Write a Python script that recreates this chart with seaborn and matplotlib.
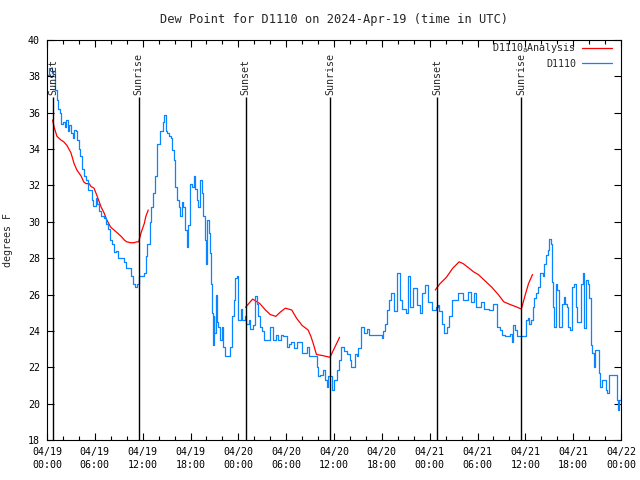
import numpy as np
import pandas as pd
import seaborn as sns
import matplotlib
matplotlib.use('Agg')
import matplotlib.pyplot as plt
import matplotlib.dates as mdates
from matplotlib.lines import Line2D

# data (hours since 2024-04-19 00:00 UTC, deg F)
start = pd.Timestamp('2024-04-19 00:00')

obs_hours = [0.0, 0.3, 0.6, 0.8, 1.0, 1.2, 1.4, 1.6, 1.8, 2.0, 2.2, 2.4, 2.6, 2.8, 3.0, 3.2, 3.4, 3.6, 3.8, 4.0,
             4.2, 4.4, 4.6, 4.9, 5.1, 5.4, 5.6, 5.8, 6.1, 6.3, 6.5, 6.8, 7.2, 7.4, 7.6, 7.9, 8.2, 8.4, 8.7, 8.9,
             9.3, 9.6, 9.9, 10.3, 10.5, 10.8, 11.1, 11.3, 11.5, 11.9, 12.2, 12.4, 12.6, 12.9, 13.1, 13.3, 13.5, 13.8, 14.2, 14.5,
             14.7, 14.9, 15.1, 15.3, 15.5, 15.7, 15.9, 16.1, 16.3, 16.5, 16.7, 16.9, 17.1, 17.3, 17.5, 17.7, 17.9, 18.2, 18.4, 18.6,
             18.8, 19.0, 19.2, 19.4, 19.6, 19.8, 19.9, 20.0, 20.1, 20.3, 20.5, 20.6, 20.7, 20.8, 20.9, 21.0, 21.2, 21.3, 21.5, 21.7,
             21.9, 22.1, 22.3, 22.6, 22.9, 23.0, 23.2, 23.4, 23.6, 23.8, 23.9, 24.0, 24.3, 24.5, 24.8, 25.0, 25.3, 25.5, 25.8, 26.1,
             26.3, 26.5, 26.7, 27.0, 27.2, 27.6, 28.0, 28.4, 28.7, 29.0, 29.3, 29.6, 30.1, 30.3, 30.6, 31.0, 31.3, 31.6, 32.0, 32.3,
             32.6, 32.9, 33.4, 33.9, 34.0, 34.2, 34.4, 34.6, 34.9, 35.1, 35.3, 35.5, 35.8, 36.0, 36.2, 36.4, 36.6, 36.9, 37.3, 37.6,
             38.0, 38.1, 38.4, 38.6, 38.9, 39.0, 39.4, 39.8, 40.2, 40.4, 40.9, 41.5, 41.8, 42.0, 42.2, 42.4, 42.7, 42.9, 43.2, 43.5,
             43.9, 44.3, 44.5, 45.0, 45.3, 45.5, 45.9, 46.4, 46.8, 47.1, 47.4, 47.8, 48.3, 48.8, 49.1, 49.2, 49.6, 49.8, 50.2, 50.4,
             50.8, 51.6, 52.2, 52.8, 53.2, 53.5, 53.8, 54.5, 54.8, 55.5, 56.0, 56.5, 56.8, 57.1, 57.5, 58.0, 58.1, 58.3, 58.5, 58.7,
             59.0, 59.5, 59.8, 60.1, 60.3, 60.5, 60.7, 60.9, 61.1, 61.4, 61.6, 61.8, 62.0, 62.2, 62.4, 62.6, 62.8, 63.0, 63.2, 63.4,
             63.5, 63.6, 63.8, 64.0, 64.2, 64.4, 64.6, 64.8, 65.0, 65.2, 65.4, 65.6, 65.9, 66.1, 66.3, 66.5, 66.8, 67.0, 67.2, 67.4,
             67.6, 67.8, 68.0, 68.2, 68.4, 68.6, 68.8, 69.0, 69.2, 69.4, 69.6, 69.9, 70.1, 70.3, 70.5, 71.0, 71.3, 71.5, 71.6, 71.8,
             72.0]
obs_dewpt = [38.1, 38.45, 38.2, 38.3, 37.25, 36.7, 36.2, 36.0, 35.4, 35.5, 35.2, 35.6, 35.0, 35.3, 34.9, 34.6, 35.05, 35.0, 34.5, 34.0,
             33.6, 32.9, 32.5, 32.3, 31.75, 31.75, 31.2, 30.85, 31.3, 31.0, 30.6, 30.3, 30.2, 29.9, 29.6, 29.0, 28.8, 28.35, 28.4, 28.0,
             28.0, 27.8, 27.45, 27.45, 27.0, 26.6, 26.4, 26.6, 27.0, 27.0, 27.2, 28.1, 28.8, 30.0, 30.8, 31.6, 32.5, 34.3, 35.0, 35.5,
             35.9, 35.0, 34.9, 34.7, 34.6, 33.95, 33.4, 31.9, 31.2, 30.8, 30.3, 31.1, 30.8, 29.55, 28.6, 29.8, 32.1, 31.9, 32.5, 31.8,
             31.2, 30.8, 32.3, 31.6, 30.3, 29.0, 28.0, 27.7, 30.1, 29.4, 28.3, 26.6, 25.0, 23.2, 24.8, 23.9, 26.0, 24.5, 24.2, 23.5,
             24.2, 23.1, 22.6, 22.6, 22.6, 23.1, 24.8, 25.7, 26.9, 27.0, 25.7, 24.6, 25.2, 24.6, 24.8, 24.4, 24.6, 24.1, 24.3, 25.9,
             25.5, 24.8, 24.2, 24.0, 23.5, 23.5, 24.2, 23.5, 23.8, 23.5, 23.8, 23.7, 23.1, 23.3, 23.4, 23.05, 23.4, 23.4, 22.8, 22.8,
             23.1, 22.6, 22.6, 22.0, 21.5, 21.6, 21.6, 21.85, 21.3, 20.9, 21.5, 21.5, 20.75, 21.3, 21.3, 21.85, 22.4, 23.1, 22.9, 22.75,
             22.4, 22.0, 22.0, 22.75, 22.6, 23.05, 24.2, 23.9, 24.1, 23.8, 23.8, 23.8, 23.8, 23.6, 24.0, 24.4, 25.15, 25.7, 26.1, 25.1,
             27.2, 25.7, 25.2, 25.0, 27.0, 25.3, 26.35, 25.4, 25.0, 26.1, 26.5, 25.6, 25.15, 25.3, 25.4, 25.1, 24.4, 23.9, 24.2, 24.8,
             25.7, 26.1, 25.7, 26.15, 25.6, 26.1, 25.3, 25.6, 25.2, 25.15, 25.5, 24.2, 24.05, 23.8, 23.7, 23.7, 23.85, 23.4, 24.3, 24.05,
             23.7, 23.7, 23.7, 24.6, 24.7, 24.4, 24.6, 25.3, 25.8, 26.1, 26.4, 27.2, 27.2, 27.0, 27.7, 28.2, 28.45, 29.05, 28.8, 26.7,
             25.3, 24.2, 26.6, 26.25, 24.2, 24.2, 25.5, 25.85, 25.5, 25.3, 24.2, 24.05, 26.4, 26.6, 25.3, 24.5, 24.5, 26.6, 27.2, 24.15,
             26.8, 26.6, 25.8, 23.2, 22.8, 22.0, 22.95, 22.95, 21.7, 20.9, 21.3, 21.3, 20.75, 20.6, 21.6, 21.6, 21.6, 20.2, 19.65, 20.2,
             20.5]

ana1_hours = [0.7, 0.9, 1.25, 1.75, 2.1, 2.5, 3.0, 3.4, 3.75, 4.3, 4.6, 4.9, 5.3, 5.5, 5.9, 6.3, 6.8,
              7.15, 7.5, 8.0, 8.4, 8.8, 9.3, 9.7, 10.0, 10.5, 10.9, 11.3, 11.5, 11.8, 12.2, 12.4, 12.7]
ana1_dewpt = [35.6, 35.2, 34.7, 34.5, 34.4, 34.2, 33.8, 33.2, 32.85, 32.5, 32.2, 32.1, 32.1, 31.95, 31.85, 31.4, 30.8,
              30.5, 30.1, 29.7, 29.55, 29.4, 29.2, 29.0, 28.9, 28.85, 28.85, 28.9, 28.9, 29.4, 29.9, 30.3, 30.65]
ana2_hours = [24.9, 25.8, 26.7, 27.4, 28.0, 28.7, 29.3, 29.9, 30.7, 31.3, 32.0, 32.75, 33.1, 33.4, 33.8, 34.5, 35.5, 36.1, 36.7]
ana2_dewpt = [25.3, 25.75, 25.5, 25.15, 24.9, 24.8, 25.05, 25.25, 25.15, 24.7, 24.3, 24.05, 23.7, 23.3, 22.7, 22.65, 22.55, 23.1, 23.65]
ana3_hours = [48.7, 49.3, 50.1, 50.9, 51.7, 52.2, 52.8, 53.5, 54.1, 54.95, 55.8, 56.6, 57.3, 58.1, 59.0, 59.5, 60.0, 60.4, 60.9]
ana3_dewpt = [26.25, 26.6, 26.95, 27.45, 27.8, 27.7, 27.5, 27.25, 27.1, 26.75, 26.4, 26.0, 25.6, 25.45, 25.3, 25.2, 26.0, 26.6, 27.1]

sunset_hours = [0.78, 24.9, 48.97]
sunrise_hours = [11.5, 35.5, 59.5]

sns.set_style('ticks')
plt.rcParams['font.family'] = ['DejaVu Sans Mono']
plt.rcParams['font.size'] = 7.2
plt.rcParams['axes.linewidth'] = 0.8
plt.rcParams['axes.edgecolor'] = 'black'
plt.rcParams['xtick.color'] = 'black'
plt.rcParams['ytick.color'] = 'black'

obs = pd.DataFrame({'time': start + pd.to_timedelta(obs_hours, unit='h'), 'dewpt': obs_dewpt})
ana = pd.concat([
    pd.DataFrame({'time': start + pd.to_timedelta(h, unit='h'), 'dewpt': v, 'seg': i})
    for i, (h, v) in enumerate([(ana1_hours, ana1_dewpt), (ana2_hours, ana2_dewpt), (ana3_hours, ana3_dewpt)])
])

red = '#ff0000'
blue = '#0a84ff'

fig = plt.figure(figsize=(6.4, 4.8), dpi=100)
ax = fig.add_axes([47 / 640, 40 / 480, 574 / 640, 400 / 480])

sns.lineplot(data=ana, x='time', y='dewpt', units='seg', estimator=None, color=red, lw=0.9, ax=ax)
sns.lineplot(data=obs, x='time', y='dewpt', estimator=None, color=blue, lw=0.9, drawstyle='steps-post', ax=ax)

# sunrise / sunset markers
for hrs, name in [(sunset_hours, 'Sunset'), (sunrise_hours, 'Sunrise')]:
    for h in hrs:
        t = start + pd.Timedelta(hours=h)
        ax.vlines(t, 18, 36.85, color='black', lw=1)
        ax.text(t, 37.0, name, rotation=90, ha='center', va='bottom')

ax.set_xlim(start, start + pd.Timedelta(hours=72))
ax.set_ylim(18, 40)
ax.set_yticks(np.arange(18, 41, 2))
ax.xaxis.set_major_locator(mdates.HourLocator(byhour=range(0, 24, 6)))
ax.xaxis.set_minor_locator(mdates.HourLocator(byhour=range(0, 24, 2)))
ax.xaxis.set_major_formatter(mdates.DateFormatter('%m/%d\n%H:%M'))
ax.tick_params(which='both', direction='in', top=True, right=True, width=0.8)
ax.tick_params(which='major', length=5, pad=5)
ax.tick_params(which='minor', length=3)
for lbl in ax.get_xticklabels():
    lbl.set_linespacing(1.35)

ax.set_xlabel('')
ax.set_ylabel('degrees F', labelpad=11)
ax.set_title('Dew Point for D1110 on 2024-Apr-19 (time in UTC)', pad=12)

handles = [Line2D([], [], color=red, lw=0.9), Line2D([], [], color=blue, lw=0.9)]
ax.legend(handles, [r'D1110$_\mathtt{a}$Analysis', 'D1110'], loc='upper right', frameon=False,
          bbox_to_anchor=((612 - 47) / 574, 1 - 1.5 / 400),
          markerfirst=False, handlelength=3.0, handletextpad=0.6, labelspacing=0.35,
          borderpad=0, borderaxespad=0, fontsize=7.2)

fig.savefig('out.png', dpi=100)
